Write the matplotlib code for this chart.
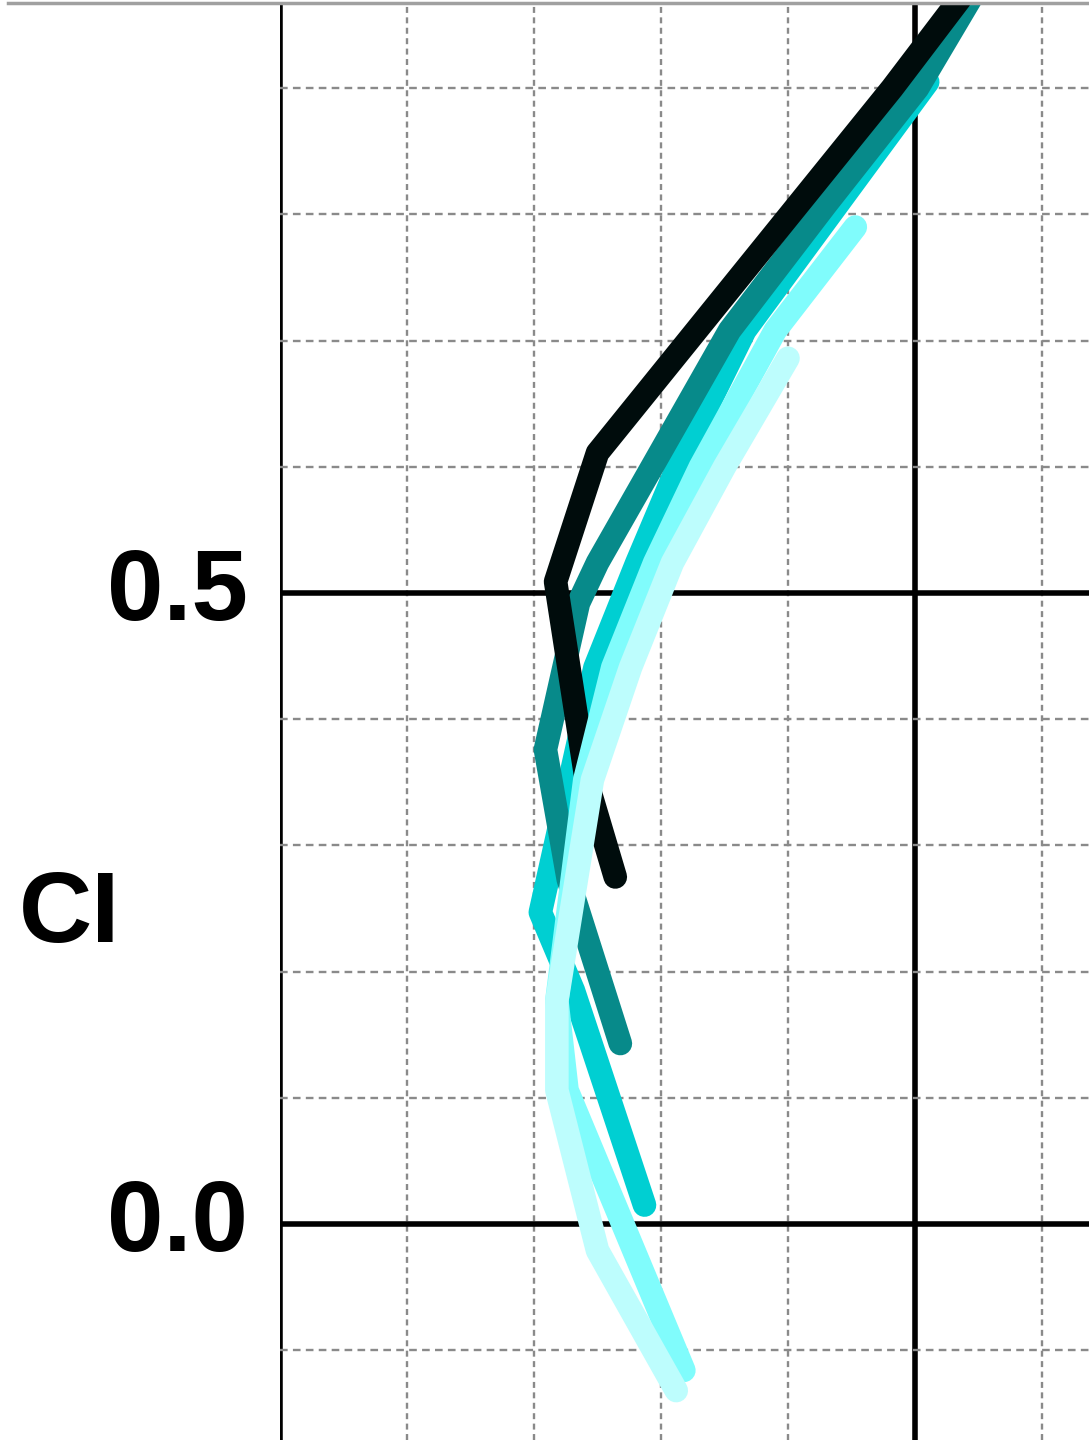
import matplotlib
matplotlib.use("Agg")
import matplotlib.pyplot as plt
from matplotlib.lines import Line2D
from matplotlib.ticker import MultipleLocator, FixedLocator, FixedFormatter
from matplotlib.transforms import ScaledTranslation

plt.rcParams['font.family'] = ['Liberation Sans', 'DejaVu Sans']
plt.rcParams['lines.scale_dashes'] = False

# ---- data ----
black_x = [0.264, 0.241, 0.217, 0.250, 0.482, 0.559]
black_y = [0.275, 0.353, 0.509, 0.611, 0.900, 1.002]

teal_x = [0.268, 0.227, 0.209, 0.235, 0.250, 0.293, 0.354, 0.430, 0.502, 0.555]
teal_y = [0.143, 0.273, 0.376, 0.492, 0.524, 0.600, 0.708, 0.808, 0.900, 0.990]

turq_x = [0.287, 0.231, 0.205, 0.248, 0.281, 0.313, 0.366, 0.510]
turq_y = [0.015, 0.185, 0.247, 0.441, 0.524, 0.600, 0.708, 0.905]

cyan_x = [0.318, 0.226, 0.218, 0.240, 0.262, 0.295, 0.331, 0.390, 0.453]
cyan_y = [-0.116, 0.106, 0.177, 0.352, 0.441, 0.524, 0.600, 0.708, 0.790]

pale_x = [0.312, 0.250, 0.218, 0.218, 0.246, 0.276, 0.309, 0.350, 0.400]
pale_y = [-0.132, -0.021, 0.106, 0.177, 0.352, 0.441, 0.524, 0.600, 0.686]

ytick_values = [0.0, 0.5]
ytick_labels = ['0.0', '0.5']
xtick_values = [0.0, 0.5]
y_label = 'CI'

series = [
    (turq_x, turq_y, '#00CFD2'),
    (teal_x, teal_y, '#078A8A'),
    (black_x, black_y, '#000C0C'),
    (cyan_x, cyan_y, '#80FCFC'),
    (pale_x, pale_y, '#BDFDFD'),
]

fig = plt.figure(figsize=(10.89, 14.40), dpi=100)
ax = fig.add_axes([280 / 1089, 0.0, 1 - 280 / 1089, 1 - 5 / 1440])

for i, (xs, ys, c) in enumerate(series):
    ax.plot(xs, ys, color=c, lw=17, solid_capstyle='round',
            solid_joinstyle='round', zorder=3 + i)

ax.set_xlim(0.0, (1089 - 280) / 1270)
ax.set_ylim((1224 - 1440) / 1262, (1224 - 5) / 1262)

ax.xaxis.set_major_locator(FixedLocator(xtick_values))
ax.xaxis.set_minor_locator(MultipleLocator(0.1))
ax.yaxis.set_major_locator(FixedLocator(ytick_values))
ax.yaxis.set_major_formatter(FixedFormatter(ytick_labels))
ax.yaxis.set_minor_locator(MultipleLocator(0.1))

ax.grid(which='major', color='black', lw=4.0, ls='-', zorder=1)
ax.grid(which='minor', axis='y', color='#8a8a8a', lw=1.7,
        ls=(0, (5.5, 3.8)), zorder=0)
ax.grid(which='minor', axis='x', color='#8a8a8a', lw=1.7,
        ls=(0, (4.3, 3.2)), zorder=0)
ax.set_axisbelow(True)

ax.tick_params(which='both', length=0)
ax.tick_params(axis='x', labelbottom=False)
ax.tick_params(axis='y', pad=23, labelsize=73)
shift = ScaledTranslation(0, 9 / 100, fig.dpi_scale_trans)
for lab in ax.get_yticklabels():
    lab.set_fontweight('bold')
    lab.set_transform(lab.get_transform() + shift)

for s in ax.spines.values():
    s.set_visible(False)

fig.text(19 / 1089, 1 - 916 / 1440, y_label, fontsize=73, fontweight='bold',
         ha='left', va='center')

fig.add_artist(Line2D([8 / 1089, 1.0], [1 - 3 / 1440, 1 - 3 / 1440],
                      transform=fig.transFigure, color='#a0a0a0', lw=2.5))

fig.savefig('out.png', dpi=100)
